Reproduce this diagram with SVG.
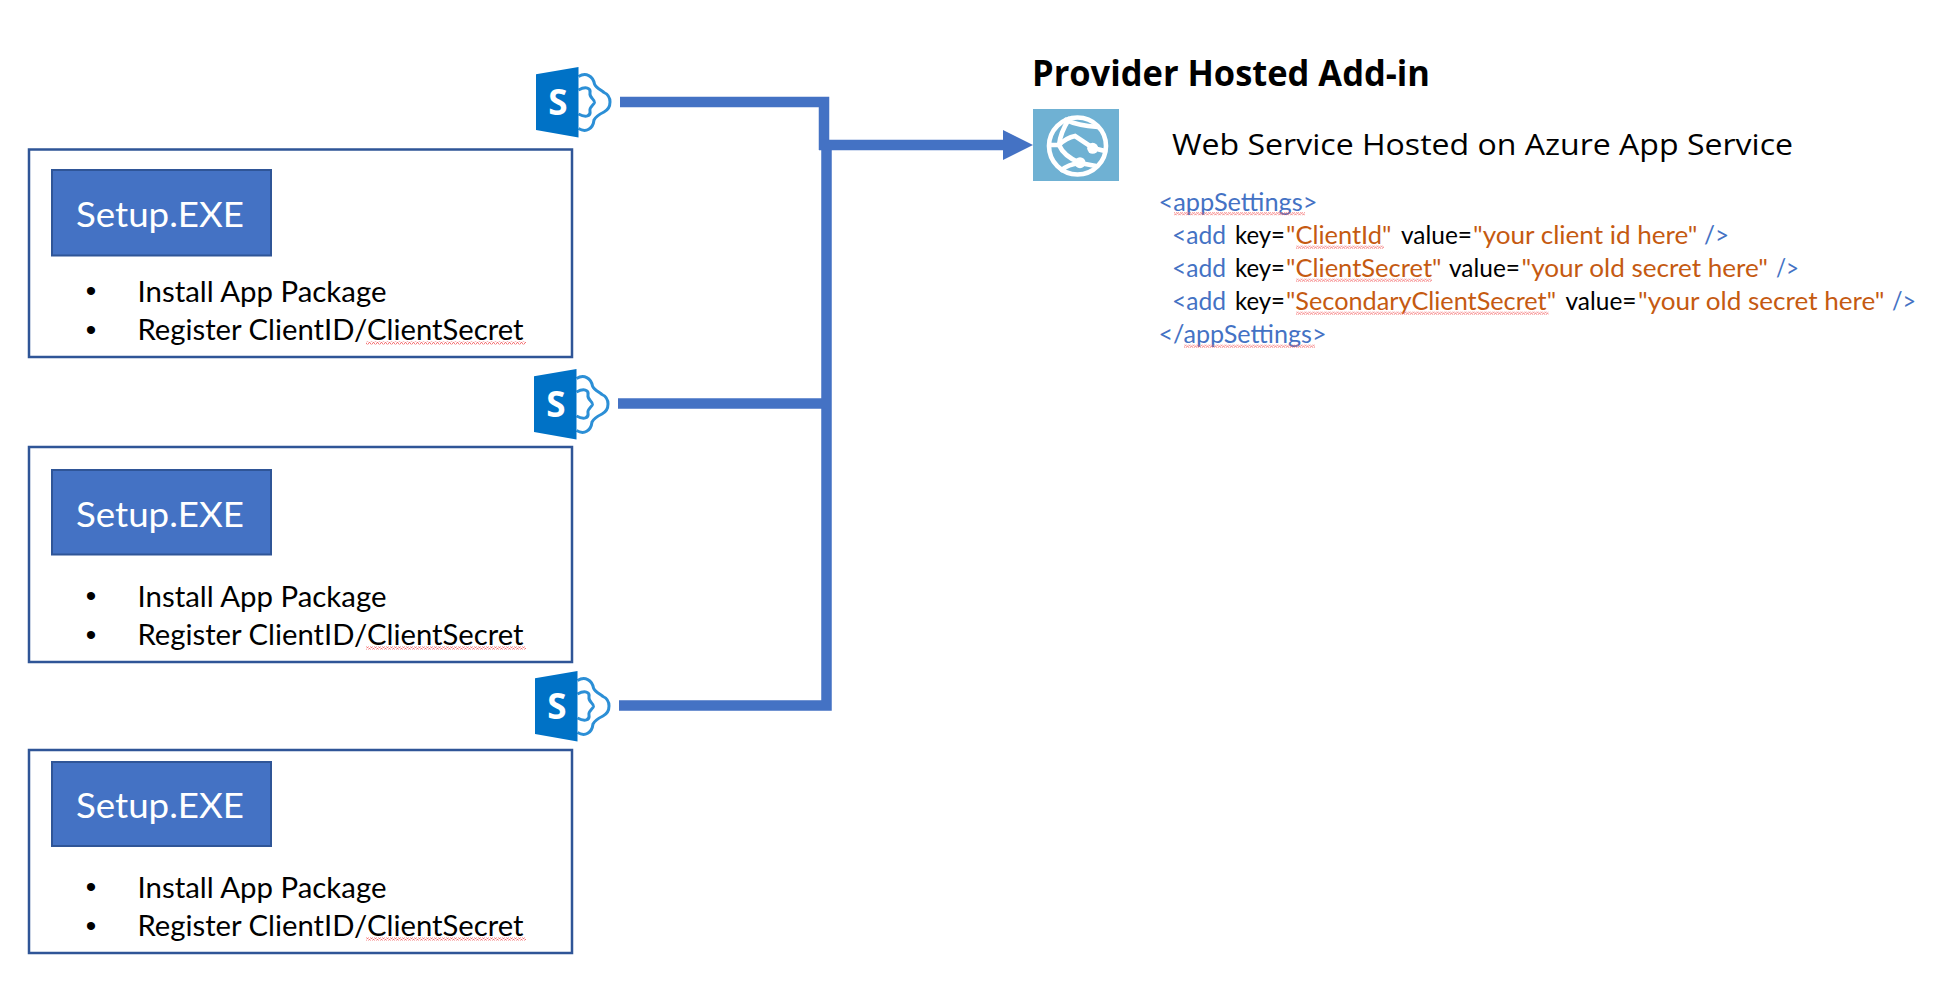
<svg xmlns="http://www.w3.org/2000/svg" xmlns:xlink="http://www.w3.org/1999/xlink" width="1936" height="985" viewBox="0 0 1936 985">
<style>
text{font-family:"Lato","Carlito","Liberation Sans",sans-serif;white-space:pre}
.box{fill:#fff;stroke:#2F5597;stroke-width:2.5}
.btn{fill:#4472C4;stroke:#2F5597;stroke-width:2}
.btxt{fill:#fff;font-size:35px}
.item{fill:#000;font-size:28px}
.bul{fill:#000;font-size:30px;font-family:"Liberation Sans",sans-serif;text-anchor:middle}
.conn{fill:none;stroke:#4472C4;stroke-width:10.5}
.x{font-size:24.5px}
.b{fill:#4472C4}.k{fill:#000}.o{fill:#C55A11}
.sq{fill:url(#wave)}
.sp{fill:none;stroke:#2C8FD6;stroke-width:3}
.gl{fill:none;stroke:#fff;stroke-width:4.6;stroke-linecap:round}
.s{fill:#fff;font-size:35px;font-weight:700;text-anchor:middle;font-family:"Open Sans",sans-serif}
</style>
<defs>
<pattern id="wave" width="4" height="3" patternUnits="userSpaceOnUse"><path d="M0,2.5 L1,0.5 L2,0.5 L3,2.5 L4,2.5" fill="none" stroke="#F4696B" stroke-width="0.9"/></pattern>
<marker id="arr" markerUnits="userSpaceOnUse" markerWidth="30" markerHeight="30" refX="0" refY="15" orient="auto"><path d="M0,0 L30,15 L0,30 Z" fill="#4472C4"/></marker>
<g id="spicon">
<path class="sp" d="M42.5,9.5 C50,5 57,9 58.5,17 C60,21 65,23 68,25.5 C76,29 76,41 68,45 C64,47 60,49 58,53 C57,62 50,66 42.5,61.5"/>
<path class="sp" d="M42.5,23 C50,19 55,21 54,26 C53,31 59,32 58.5,35.5 C58,38 53,40 54,44 C55,49 50,51 42.5,47"/>
<path d="M0,7.3 L42.5,0 V70.5 L0,63 Z" fill="#0072C6"/>
</g>
</defs>
<rect width="1936" height="985" fill="#fff"/>

<g id="connectors">
<path class="conn" d="M620,102 H824 V150"/>
<path class="conn" d="M826.5,145 V705.5 H619"/>
<path class="conn" d="M618,403.5 H826"/>
<path class="conn" d="M819,145 H1003" marker-end="url(#arr)"/>
</g>

<g id="sharepoint-1"><use href="#spicon" x="536" y="67"/><text class="s" x="558" y="115">S</text></g>
<g id="sharepoint-2"><use href="#spicon" x="534" y="369"/><text class="s" x="556" y="417">S</text></g>
<g id="sharepoint-3"><use href="#spicon" x="535" y="671"/><text class="s" x="557" y="719">S</text></g>

<g id="setup-1">
<rect class="box" x="29" y="149.5" width="543" height="207.5"/>
<rect class="btn" x="52" y="170" width="219" height="85.5"/>
<text class="btxt" x="76" y="227" textLength="168" lengthAdjust="spacingAndGlyphs">Setup.EXE</text>
<text class="bul" x="91" y="301">•</text>
<text class="item" x="137.5" y="301.5" textLength="249" lengthAdjust="spacingAndGlyphs">Install App Package</text>
<text class="bul" x="91" y="340">•</text>
<text class="item" x="137.5" y="340" textLength="386" lengthAdjust="spacingAndGlyphs">Register ClientID/ClientSecret</text>
<rect class="sq" x="366" y="341.5" width="160" height="3"/>
</g>

<g id="setup-2">
<rect class="box" x="29" y="447" width="543" height="215"/>
<rect class="btn" x="52" y="470" width="219" height="84.5"/>
<text class="btxt" x="76" y="526.7" textLength="168" lengthAdjust="spacingAndGlyphs">Setup.EXE</text>
<text class="bul" x="91" y="606">•</text>
<text class="item" x="137.5" y="606.5" textLength="249" lengthAdjust="spacingAndGlyphs">Install App Package</text>
<text class="bul" x="91" y="645">•</text>
<text class="item" x="137.5" y="645" textLength="386" lengthAdjust="spacingAndGlyphs">Register ClientID/ClientSecret</text>
<rect class="sq" x="366" y="646.5" width="160" height="3"/>
</g>

<g id="setup-3">
<rect class="box" x="29" y="750" width="543" height="203"/>
<rect class="btn" x="52" y="762" width="219" height="84"/>
<text class="btxt" x="76" y="817.7" textLength="168" lengthAdjust="spacingAndGlyphs">Setup.EXE</text>
<text class="bul" x="91" y="897">•</text>
<text class="item" x="137.5" y="897.5" textLength="249" lengthAdjust="spacingAndGlyphs">Install App Package</text>
<text class="bul" x="91" y="936">•</text>
<text class="item" x="137.5" y="936" textLength="386" lengthAdjust="spacingAndGlyphs">Register ClientID/ClientSecret</text>
<rect class="sq" x="366" y="937.5" width="160" height="3"/>
</g>

<g id="provider">
<text x="1032" y="85.5" font-size="35" font-weight="700" fill="#000" textLength="398" lengthAdjust="spacingAndGlyphs" style="font-family:'Open Sans',sans-serif">Provider Hosted Add-in</text>
<rect x="1033" y="109" width="86" height="72" fill="#6FB1D3"/>
<g class="gl">
<circle cx="1077.5" cy="146" r="28.5"/>
<path d="M1059,145 C1060,135 1064,127 1069,119"/>
<path d="M1059,145 C1064,140 1070,137 1075,136 L1093,148 L1105,151"/>
<path d="M1059,145 C1062,152 1068,158 1080,163 L1096,166"/>
<path d="M1062,170 C1066,166 1072,164 1080,163"/>
<path d="M1051,145 H1059"/>
<path d="M1066,120 C1074,124 1084,126 1098,127"/>
</g>
<circle cx="1092.7" cy="148.3" r="5.5" fill="#fff"/>
<circle cx="1080" cy="162.7" r="5.5" fill="#fff"/>
<text x="1172" y="155" font-size="30" fill="#000" textLength="621" lengthAdjust="spacingAndGlyphs" style="font-family:'Open Sans',sans-serif">Web Service Hosted on Azure App Service</text>
</g>

<g id="config" class="x" transform="translate(-2,0.7)">
<text class="x b" x="1160.5" y="210" textLength="159" lengthAdjust="spacingAndGlyphs">&lt;appSettings&gt;</text>
<rect class="sq" x="1176" y="211.5" width="131" height="3"/>

<text class="x b" x="1174" y="243" textLength="54" lengthAdjust="spacingAndGlyphs">&lt;add</text>
<text class="x k" x="1237" y="243" textLength="50" lengthAdjust="spacingAndGlyphs">key=</text>
<text class="x o" x="1288" y="243" textLength="105.5" lengthAdjust="spacingAndGlyphs">"ClientId"</text>
<text class="x k" x="1403" y="243" textLength="71" lengthAdjust="spacingAndGlyphs">value=</text>
<text class="x o" x="1475" y="243" textLength="224.5" lengthAdjust="spacingAndGlyphs">"your client id here"</text>
<text class="x b" x="1706" y="243" textLength="25" lengthAdjust="spacingAndGlyphs">/&gt;</text>
<rect class="sq" x="1298" y="245" width="88" height="3"/>

<text class="x b" x="1174" y="276.5" textLength="54" lengthAdjust="spacingAndGlyphs">&lt;add</text>
<text class="x k" x="1237" y="276.5" textLength="50" lengthAdjust="spacingAndGlyphs">key=</text>
<text class="x o" x="1288" y="276.5" textLength="155.5" lengthAdjust="spacingAndGlyphs">"ClientSecret"</text>
<text class="x k" x="1451" y="276.5" textLength="71" lengthAdjust="spacingAndGlyphs">value=</text>
<text class="x o" x="1523.5" y="276.5" textLength="246.5" lengthAdjust="spacingAndGlyphs">"your old secret here"</text>
<text class="x b" x="1778" y="276.5" textLength="23" lengthAdjust="spacingAndGlyphs">/&gt;</text>
<rect class="sq" x="1298" y="278" width="136" height="3"/>

<text class="x b" x="1174" y="309.5" textLength="54" lengthAdjust="spacingAndGlyphs">&lt;add</text>
<text class="x k" x="1237" y="309.5" textLength="50" lengthAdjust="spacingAndGlyphs">key=</text>
<text class="x o" x="1288" y="309.5" textLength="270" lengthAdjust="spacingAndGlyphs">"SecondaryClientSecret"</text>
<text class="x k" x="1567.5" y="309.5" textLength="71" lengthAdjust="spacingAndGlyphs">value=</text>
<text class="x o" x="1640" y="309.5" textLength="246.5" lengthAdjust="spacingAndGlyphs">"your old secret here"</text>
<text class="x b" x="1894" y="309.5" textLength="24" lengthAdjust="spacingAndGlyphs">/&gt;</text>
<rect class="sq" x="1298" y="311" width="252.5" height="3"/>

<text class="x b" x="1160.5" y="342" textLength="168" lengthAdjust="spacingAndGlyphs">&lt;/appSettings&gt;</text>
<rect class="sq" x="1186" y="344" width="131" height="3"/>
</g>
</svg>
